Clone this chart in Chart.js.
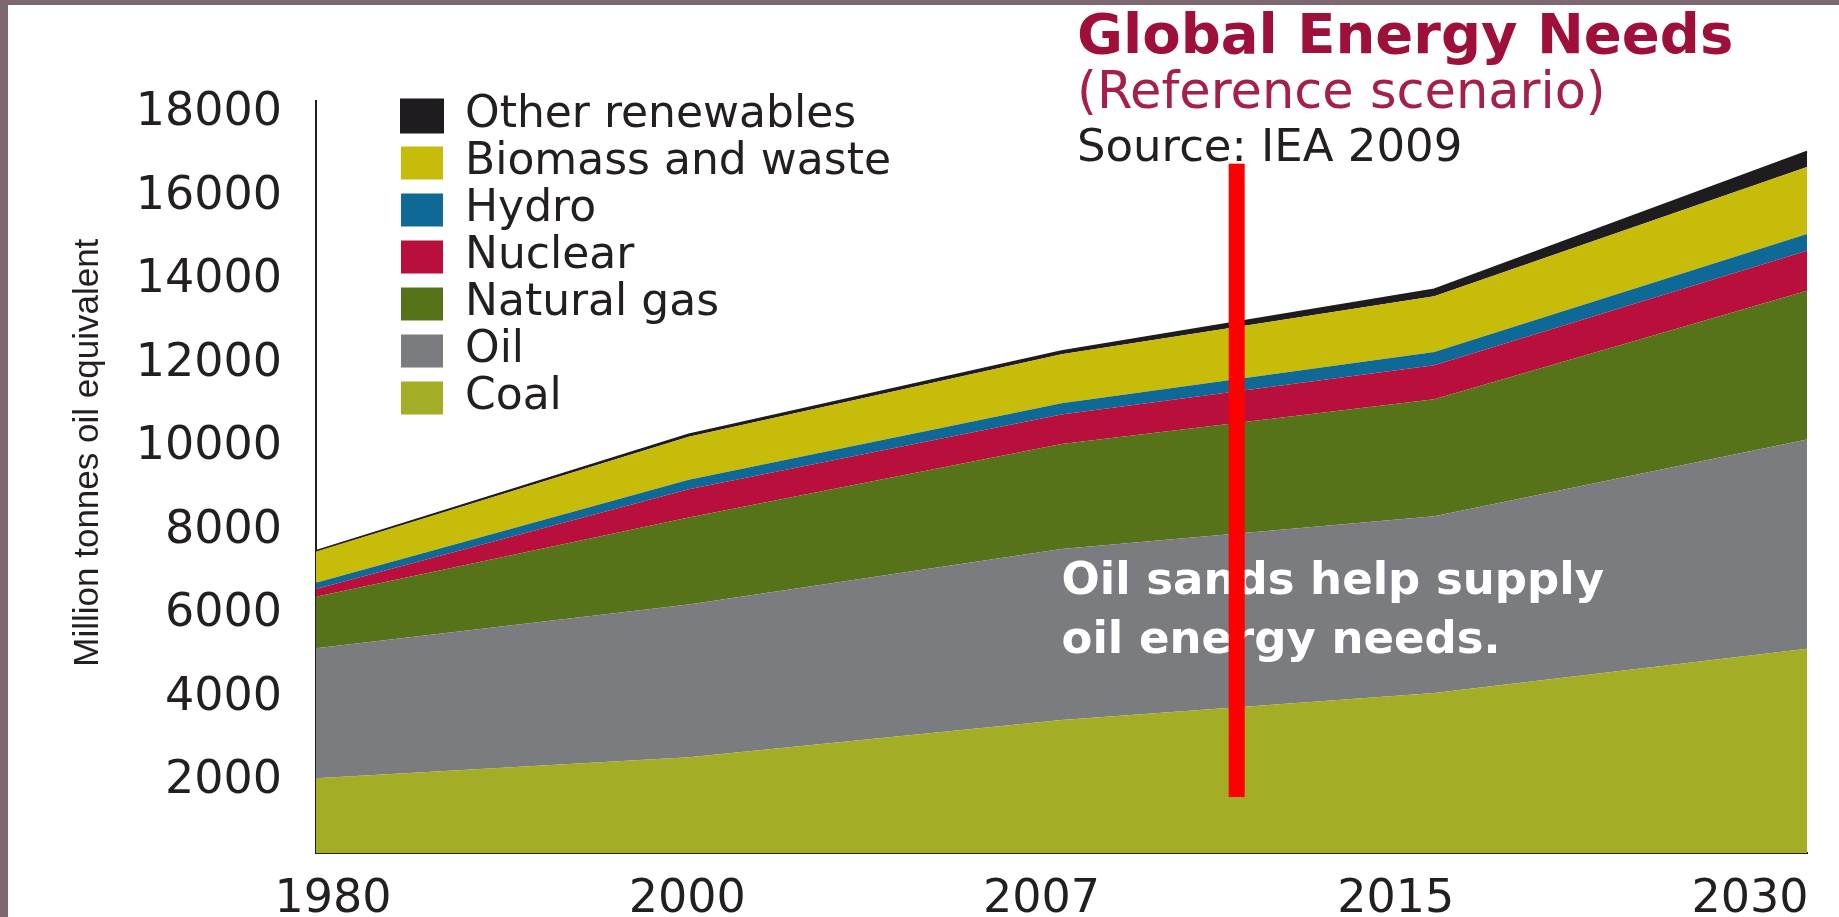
<!DOCTYPE html>
<html>
<head>
<meta charset="utf-8">
<script src="https://cdn.jsdelivr.net/npm/chart.js@4"></script>
<style>
  html, body { margin: 0; padding: 0; background: #7d6872; overflow: hidden; }
  #wrap { position: absolute; left: 8px; top: 5px; width: 1831px; height: 912px; background: #fff; }
</style>
</head>
<body>
<div id="wrap"><canvas id="energyChart"></canvas></div>
<script>
// World primary energy demand, reference scenario (Mtoe)
const years = ["1980", "2000", "2007", "2015", "2030"];
const coal = [1792, 2292, 3184, 3828, 4887];
const oil = [3107, 3655, 4093, 4234, 5009];
const naturalGas = [1234, 2085, 2512, 2801, 3561];
const nuclear = [186, 676, 709, 810, 956];
const hydro = [148, 225, 265, 317, 402];
const biomass = [749, 1031, 1176, 1338, 1604];
const otherRenewables = [12, 55, 74, 160, 370];

const yTicks = [2000, 4000, 6000, 8000, 10000, 12000, 14000, 16000, 18000];

const titleLines = ["Global Energy Needs", "(Reference scenario)", "Source: IEA 2009"];
const noteLines = ["Oil sands help supply", "oil energy needs."];

Chart.defaults.font.family = "'DejaVu Sans', sans-serif";
Chart.defaults.color = "#231f20";

function layer(label, data, color, fill) {
  return {
    label: label,
    data: data,
    backgroundColor: color,
    borderColor: color,
    borderWidth: 0,
    fill: fill,
    pointRadius: 0,
    tension: 0
  };
}

// legend sits inside the plot, top-left
const legendShift = {
  id: "legendShift",
  afterLayout(chart) {
    const lg = chart.legend;
    const area = chart.chartArea;
    lg.left = area.left + 82;
    lg.top = area.top - 10;
    lg.right = lg.left + lg.width;
    lg.bottom = area.bottom;
  }
};

const headerText = {
  id: "headerText",
  afterDraw(chart) {
    const ctx = chart.ctx;
    ctx.save();
    ctx.textAlign = "left";
    ctx.textBaseline = "alphabetic";
    ctx.fillStyle = "#9e1039";
    ctx.font = "bold 56px 'DejaVu Sans'";
    ctx.fillText(titleLines[0], 1069, 48);
    ctx.fillStyle = "#a52048";
    ctx.font = "51px 'DejaVu Sans'";
    ctx.fillText(titleLines[1], 1069, 103);
    ctx.fillStyle = "#231f20";
    ctx.font = "45px 'DejaVu Sans'";
    ctx.fillText(titleLines[2], 1069, 156);
    ctx.restore();
  }
};

const oilNote = {
  id: "oilNote",
  afterDatasetsDraw(chart) {
    const ctx = chart.ctx;
    const x = chart.scales.x.getPixelForValue(2);
    const y = chart.scales.y.getPixelForValue(6480);
    ctx.save();
    ctx.fillStyle = "#ffffff";
    ctx.font = "bold 45px 'DejaVu Sans'";
    ctx.textAlign = "left";
    ctx.textBaseline = "middle";
    noteLines.forEach((t, i) => ctx.fillText(t, x, y + i * 59));
    ctx.restore();
  },
  afterDraw(chart) {
    // red marker line drawn over the picture
    const ctx = chart.ctx;
    const x = chart.scales.x.getPixelForValue(2.47);
    const top = chart.scales.y.getPixelForValue(16500);
    const bottom = chart.scales.y.getPixelForValue(1340);
    ctx.save();
    ctx.fillStyle = "#ff0000";
    ctx.fillRect(x - 8, top, 16, bottom - top);
    ctx.restore();
  }
};

const other = layer("Other renewables", otherRenewables, "#1e1c1e", "-1");
other.borderWidth = 2;

new Chart(document.getElementById("energyChart"), {
  type: "line",
  data: {
    labels: years,
    datasets: [
      layer("Coal", coal, "#a4ad26", "origin"),
      layer("Oil", oil, "#7a7c80", "-1"),
      layer("Natural gas", naturalGas, "#56731a", "-1"),
      layer("Nuclear", nuclear, "#b80f3c", "-1"),
      layer("Hydro", hydro, "#0f6996", "-1"),
      layer("Biomass and waste", biomass, "#c8bc0a", "-1"),
      other
    ]
  },
  options: {
    responsive: true,
    maintainAspectRatio: false,
    animation: false,
    layout: { padding: { left: 0, right: 32, top: 96, bottom: 0 } },
    plugins: {
      legend: {
        position: "chartArea",
        align: "start",
        reverse: true,
        labels: {
          boxWidth: 42,
          boxHeight: 33,
          padding: 3,
          color: "#231f20",
          font: { size: 44 }
        }
      },
      tooltip: { enabled: false }
    },
    scales: {
      x: { display: false },
      years: {
        type: "linear",
        position: "bottom",
        min: -0.048,
        max: 4.161,
        grid: { display: false },
        border: { display: true, color: "#231f20", width: 2 },
        afterBuildTicks: (axis) => { axis.ticks = years.map((_, i) => ({ value: i })); },
        afterFit: (axis) => { axis.height = 64; },
        ticks: {
          padding: 11,
          maxRotation: 0,
          autoSkip: false,
          font: { size: 46 },
          color: "#231f20",
          callback: (v) => years[v]
        }
      },
      y: {
        stacked: true,
        min: 0,
        max: 18000,
        grid: { display: false },
        border: { display: true, color: "#231f20", width: 2 },
        afterBuildTicks: (axis) => { axis.ticks = yTicks.map(v => ({ value: v })); },
        afterFit: (axis) => { axis.width = 308; },
        ticks: {
          padding: 26,
          labelOffset: 12,
          font: { size: 46 },
          color: "#231f20",
          callback: (v) => String(v)
        },
        title: {
          display: true,
          text: "     Million tonnes oil equivalent",
          color: "#231f20",
          padding: { top: 59, bottom: 0 },
          font: { family: "'Liberation Sans'", size: 35 }
        }
      }
    }
  },
  plugins: [legendShift, headerText, oilNote]
});
</script>
</body>
</html>
